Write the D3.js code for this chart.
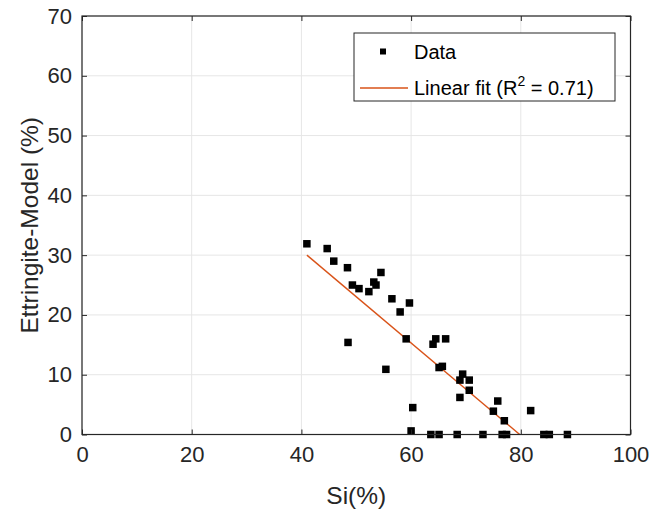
<!DOCTYPE html>
<html>
<head>
<meta charset="utf-8">
<script src="https://cdn.jsdelivr.net/npm/d3@7"></script>
<style>
  html, body { margin: 0; padding: 0; background: #fff; }
  svg { display: block; font-family: "Liberation Sans", Arial, Helvetica, sans-serif; }
</style>
</head>
<body>
<svg id="chart" width="660" height="512"></svg>
<script>
// ---- data ----
const siValues = [41.0, 44.7, 45.9, 48.4, 49.3, 50.5, 52.3, 53.2, 53.6, 54.5,
  56.5, 59.7, 58.0, 48.5, 59.1, 55.4, 60.3, 60.0, 64.0, 64.5,
  66.3, 65.1, 65.7, 69.4, 68.9, 70.6, 70.6, 68.9, 75.8, 75.0,
  77.0, 81.8, 63.6, 65.1, 68.4, 73.1, 76.6, 77.4, 84.2, 85.2, 88.5];
const ettringiteValues = [31.9, 31.1, 29.0, 27.9, 25.0, 24.4, 23.9, 25.5, 25.0, 27.1,
  22.7, 22.0, 20.5, 15.4, 16.0, 10.9, 4.5, 0.6, 15.1, 16.0,
  16.0, 11.2, 11.4, 10.1, 9.1, 9.1, 7.4, 6.2, 5.6, 3.9,
  2.3, 4.0, 0, 0, 0, 0, 0, 0, 0, 0, 0];
const fitCoefficients = [-0.7732, 61.70]; // slope, intercept
const xTicks = [0, 20, 40, 60, 80, 100];
const yTicks = [0, 10, 20, 30, 40, 50, 60, 70];
const xLabel = "Si(%)";
const yLabel = "Ettringite-Model (%)";
const legendLabels = ["Data", "Linear fit (R", "2", " = 0.71)"];

// ---- layout ----
const svg = d3.select("#chart");
const L = 82, R = 630.5, T = 16, B = 434.5;
const x = d3.scaleLinear().domain([0, 100]).range([L, R]);
const y = d3.scaleLinear().domain([0, 70]).range([B, T]);
const axisColor = "#262626";

// grid
const grid = svg.append("g");
grid.selectAll(".gx").data(xTicks).enter().append("line")
  .attr("x1", d => x(d)).attr("x2", d => x(d)).attr("y1", T).attr("y2", B)
  .attr("stroke", "#e6e6e6").attr("stroke-width", 1);
grid.selectAll(".gy").data(yTicks).enter().append("line")
  .attr("y1", d => y(d)).attr("y2", d => y(d)).attr("x1", L).attr("x2", R)
  .attr("stroke", "#e6e6e6").attr("stroke-width", 1);

// clip
svg.append("defs").append("clipPath").attr("id", "plotclip")
  .append("rect").attr("x", L).attr("y", T).attr("width", R - L).attr("height", B - T);

// fit line
const xMin = d3.min(siValues), xMax = d3.max(siValues);
const fitPts = [xMin, xMax].map(v => [v, fitCoefficients[0] * v + fitCoefficients[1]]);
svg.append("path")
  .attr("clip-path", "url(#plotclip)")
  .attr("d", d3.line().x(d => x(d[0])).y(d => y(d[1]))(fitPts))
  .attr("stroke", "#D95319").attr("stroke-width", 1.4).attr("fill", "none");

// markers
const ms = 7.5;
svg.append("g").selectAll("rect").data(siValues.map((v, i) => [v, ettringiteValues[i]]))
  .enter().append("rect")
  .attr("x", d => x(d[0]) - ms / 2).attr("y", d => y(d[1]) - ms / 2)
  .attr("width", ms).attr("height", ms).attr("fill", "#000");

// axes
const xAxisB = d3.axisBottom(x).tickValues(xTicks).tickSize(-5).tickPadding(12).tickFormat(d3.format("d"));
const xAxisT = d3.axisTop(x).tickValues(xTicks).tickSize(-5).tickFormat("");
const yAxisL = d3.axisLeft(y).tickValues(yTicks).tickSize(-5).tickPadding(10).tickFormat(d3.format("d"));
const yAxisR = d3.axisRight(y).tickValues(yTicks).tickSize(-5).tickFormat("");

function styleAxis(g) {
  g.select(".domain").attr("stroke", axisColor).attr("stroke-width", 1.2);
  g.selectAll(".tick line").attr("stroke", axisColor).attr("stroke-width", 1);
  g.selectAll(".tick text").attr("fill", axisColor).style("font-size", "22px")
    .style("font-family", '"Liberation Sans", Arial, sans-serif');
}
svg.append("g").attr("transform", `translate(0,${B})`).call(xAxisB).call(styleAxis);
svg.append("g").attr("transform", `translate(0,${T})`).call(xAxisT).call(styleAxis);
svg.append("g").attr("transform", `translate(${L},0)`).call(yAxisL).call(styleAxis);
svg.append("g").attr("transform", `translate(${R},0)`).call(yAxisR).call(styleAxis);
svg.selectAll(".domain").attr("d", null);
svg.append("rect").attr("x", L).attr("y", T).attr("width", R - L).attr("height", B - T)
  .attr("fill", "none").attr("stroke", axisColor).attr("stroke-width", 1.2);

// axis labels
svg.append("text").attr("x", (L + R) / 2).attr("y", 504).attr("text-anchor", "middle")
  .attr("fill", axisColor).style("font-size", "24.5px").text(xLabel);
svg.append("text").attr("transform", `translate(38,${(T + B) / 2}) rotate(-90)`)
  .attr("text-anchor", "middle").attr("fill", axisColor).style("font-size", "24.5px").text(yLabel);

// legend
const lg = svg.append("g");
lg.append("rect").attr("x", 354).attr("y", 33).attr("width", 261).attr("height", 68)
  .attr("fill", "#fff").attr("stroke", "#262626").attr("stroke-width", 1);
lg.append("rect").attr("x", 383 - 3).attr("y", 51.5 - 3).attr("width", 6).attr("height", 6).attr("fill", "#000");
lg.append("text").attr("x", 414).attr("y", 58.5).attr("fill", "#000").style("font-size", "20px").text(legendLabels[0]);
lg.append("line").attr("x1", 360).attr("x2", 408).attr("y1", 88).attr("y2", 88)
  .attr("stroke", "#D95319").attr("stroke-width", 1.4);
const t2 = lg.append("text").attr("x", 414).attr("y", 95).attr("fill", "#000").style("font-size", "20px");
t2.append("tspan").text(legendLabels[1]);
t2.append("tspan").attr("dy", -9).style("font-size", "14px").text(legendLabels[2]);
t2.append("tspan").attr("dy", 9).text(legendLabels[3]);
</script>
</body>
</html>
